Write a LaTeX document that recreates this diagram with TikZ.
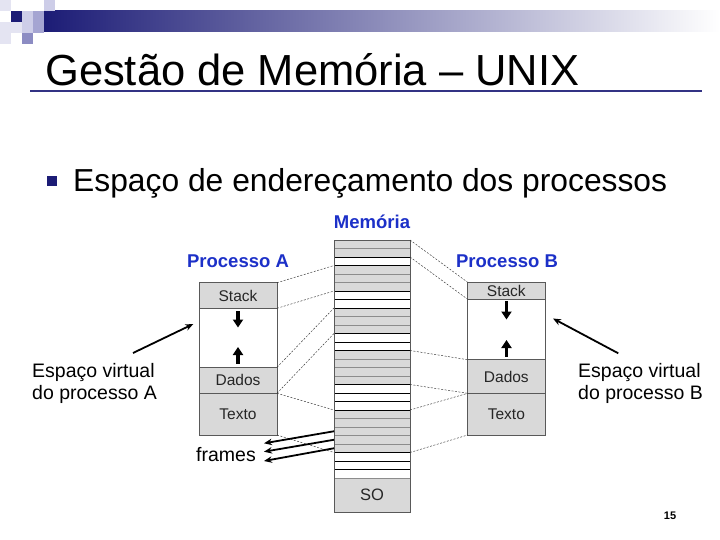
\documentclass[tikz,border=0pt]{standalone}
\usepackage{fontspec}
\setmainfont{Liberation Sans}
\usetikzlibrary{arrows.meta}
\definecolor{navy}{RGB}{28,28,118}
\definecolor{lblue}{RGB}{28,48,200}
\definecolor{boxgray}{RGB}{217,217,217}
\definecolor{lavA}{RGB}{228,228,242}
\definecolor{lavB}{RGB}{205,205,232}
\definecolor{lavC}{RGB}{165,165,210}
\definecolor{lavD}{RGB}{140,140,195}
\tikzset{
  memg/.style={rectangle, minimum width=76pt, minimum height=8.5pt, inner sep=0pt, outer sep=0pt, fill=boxgray, draw=black!45, line width=0.6pt},
  memw/.style={memg, fill=white, draw=black, line width=0.7pt},
  pbox/.style={rectangle, draw=black!65, line width=0.8pt, fill=boxgray, inner sep=0pt, outer sep=0pt, font=\fontsize{15.5}{18}\selectfont, text=black!85},
  link/.style={draw=black!80, line width=0.45pt, dash pattern=on 2pt off 1.5pt},
  growarr/.style={line width=3.2pt, -{Triangle[width=10pt,length=8pt]}},
  ptr/.style={line width=1.8pt, -{Stealth[length=8pt,width=6.5pt]}},
  lbl/.style={font=\fontsize{19.5}{22}\selectfont, inner sep=0pt},
  plabel/.style={font=\bfseries\fontsize{18.5}{21}\selectfont, text=lblue, inner sep=0pt},
}
\begin{document}
\begin{tikzpicture}[x=1pt,y=-1pt]
\useasboundingbox (0,0) rectangle (720,540);
\fill[white] (0,0) rectangle (720,540);
% header decoration
\shade[left color=navy, right color=white] (44,11) rectangle (720,32);
\fill[lavA] (0,0) rectangle (11,11);
\fill[lavA] (0,22) rectangle (11,44);
\fill[lavA] (11,22) rectangle (22,33);
\fill[navy] (11,11) rectangle (22,22);
\fill[lavB] (22,11) rectangle (33,22);
\fill[lavB] (22,22) rectangle (33,33);
\fill[lavC] (33,11) rectangle (44,22);
\fill[lavB] (44,0) rectangle (55,11);
\fill[lavC] (33,22) rectangle (44,33);
\fill[lavD] (22,33) rectangle (33,44);
% title
\node[anchor=base west, inner sep=0pt, font=\fontsize{43.5}{50}\selectfont] (title) at (45,86) {Gestão de Memória – UNIX};
\draw[navy!90, line width=2.2pt] (30,91) -- (702,91);
% bullet
\node[fill=navy, minimum size=9.5pt, inner sep=0pt] (bul) at (52,181) {};
\node[anchor=base west, inner sep=0pt, font=\fontsize{31.8}{36}\selectfont] (sub) at (73,192) {Espaço de endereçamento dos processos};
% memory
\foreach \i in {1,2,4,5,6,9,10,11,14,15,16,17,21,22,23,24,25}
  \node[memg] (r\i) at (372,{240+8.5*(\i-0.5)}) {};
\foreach \i in {3,7,8,12,13,18,19,20,26,27,28}
  \node[memw] (r\i) at (372,{240+8.5*(\i-0.5)}) {};
\node[pbox, draw=black!45, minimum width=76pt, minimum height=34pt, font=\fontsize{16.5}{19}\selectfont] (so) at (372,495) {SO};
\draw[black!65, line width=0.8pt] (r1.north west) rectangle (so.south east);
\node[plabel] (mem) at (372,222) {Memória};
% process A
\node[plabel] (pa) at (238,261) {Processo A};
\node[pbox, minimum width=78pt, minimum height=25.6pt] (sA) at (238,295.5) {Stack};
\node[pbox, fill=white, minimum width=78pt, minimum height=59pt] (mA) at (238,337.8) {};
\node[pbox, minimum width=78pt, minimum height=26pt] (dA) at (238,380.3) {Dados};
\node[pbox, minimum width=78pt, minimum height=41.7pt] (tA) at (238,414.15) {Texto};
\draw[growarr] (238,311) -- (238,327.5);
\draw[growarr] (238,363.5) -- (238,347);
% process B
\node[plabel] (pb) at (507,261) {Processo B};
\node[pbox, minimum width=77.3pt, minimum height=17pt] (sB) at (506.35,290.8) {Stack};
\node[pbox, fill=white, minimum width=77.3pt, minimum height=60.4pt] (mB) at (506.35,329.5) {};
\node[pbox, minimum width=77.3pt, minimum height=33.6pt] (dB) at (506.35,376.5) {Dados};
\node[pbox, minimum width=77.3pt, minimum height=41.7pt] (tB) at (506.35,414.15) {Texto};
\draw[growarr] (506.5,301) -- (506.5,319.5);
\draw[growarr] (506.5,356.5) -- (506.5,340);
% mapping lines A
\draw[link] (sA.north east) -- (r4.north west);
\draw[link] (sA.south east) -- (r7.north west);
\draw[link] (dA.north east) -- (r9.north west);
\draw[link] (dA.south east) -- (r12.north west);
\draw[link] (tA.north east) -- (r21.north west);
\draw[link] (tA.south east) -- (r26.north west);
% mapping lines B
\draw[link] (r1.north east) -- (sB.north west);
\draw[link] (r3.north east) -- (sB.south west);
\draw[link] (r14.north east) -- (dB.north west);
\draw[link] (r18.north east) -- (dB.south west);
\draw[link] (r21.north east) -- (tB.north west);
\draw[link] (r26.north east) -- (tB.south west);
% frames
\node[lbl, anchor=base west] (fr) at (196,461) {frames};
\coordinate (f1) at (264,443.3);
\coordinate (f2) at (264,451.7);
\coordinate (f3) at (264,461);
\draw[ptr] (r23.west) -- (f1);
\draw[ptr] (r24.west) -- (f2);
\draw[ptr] (r25.west) -- (f3);
% virtual space labels
\node[lbl, align=left, anchor=north west] (va) at (32,363) {Espaço virtual\\do processo A};
\node[lbl, align=left, anchor=north west] (vb) at (578,363) {Espaço virtual\\do processo B};
\coordinate (a1) at (133,353);
\coordinate (a2) at (193.3,324);
\coordinate (b1) at (618.3,353.3);
\coordinate (b2) at (553,318.5);
\draw[ptr] (a1) -- (a2);
\draw[ptr] (b1) -- (b2);
% page number
\node[font=\bfseries\fontsize{11}{13}\selectfont, inner sep=0pt] (pg) at (670,516) {15};
\end{tikzpicture}
\end{document}
